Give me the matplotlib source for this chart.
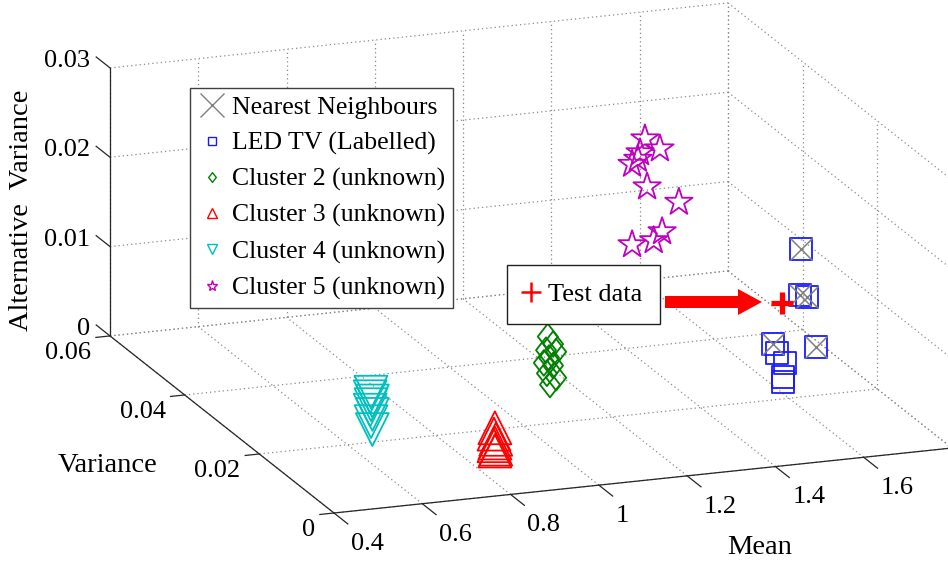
import numpy as np
import matplotlib
matplotlib.use("Agg")
import matplotlib.pyplot as plt
from matplotlib.lines import Line2D
from matplotlib.path import Path
from matplotlib.patches import FancyArrow
from matplotlib import transforms as mtransforms
from mpl_toolkits.mplot3d import proj3d

plt.rcParams["font.family"] = ["Liberation Serif", "DejaVu Serif"]
plt.rcParams["font.size"] = 19

# ---- feature values (mean, variance, alternative variance) ----
led_mean = [1.628, 1.625, 1.640, 1.564, 1.662, 1.572, 1.591, 1.586, 1.586]
led_var = [0.020, 0.020, 0.020, 0.020, 0.020, 0.020, 0.020, 0.020, 0.020]
led_alt = [0.0166, 0.0114, 0.0111, 0.0063, 0.0054, 0.0052, 0.0040, 0.0025, 0.0019]
neighbour_idx = [0, 1, 2, 3, 4]

c2_mean = [1.138, 1.150, 1.134, 1.157, 1.141, 1.129, 1.150, 1.136, 1.157, 1.143]
c2_var = [0.030, 0.030, 0.030, 0.030, 0.030, 0.030, 0.030, 0.030, 0.030, 0.030]
c2_alt = [0.0060, 0.0051, 0.0045, 0.0042, 0.0036, 0.0031, 0.0027, 0.0019, 0.0013, 0.0006]

c3_mean = [0.849, 0.847, 0.851, 0.849, 0.847, 0.851, 0.849]
c3_var = [0.010, 0.010, 0.010, 0.010, 0.010, 0.010, 0.010]
c3_alt = [0.0039, 0.0032, 0.0026, 0.0022, 0.0019, 0.0015, 0.0013]

c4_mean = [0.653, 0.651, 0.656, 0.653, 0.651, 0.656, 0.653, 0.656]
c4_var = [0.020, 0.020, 0.020, 0.020, 0.020, 0.020, 0.020, 0.020]
c4_alt = [0.0056, 0.0051, 0.0046, 0.0042, 0.0036, 0.0031, 0.0023, 0.0014]

c5_mean = [1.358, 1.392, 1.347, 1.329, 1.342, 1.363, 1.435, 1.329, 1.378, 1.397]
c5_var = [0.030, 0.030, 0.030, 0.030, 0.030, 0.030, 0.030, 0.030, 0.030, 0.030]
c5_alt = [0.0270, 0.0257, 0.0255, 0.0243, 0.0248, 0.0216, 0.0195, 0.0153, 0.0155, 0.0164]

test_mean = [1.584]
test_var = [0.020]
test_alt = [0.0108]

mean_ticks = [0.4, 0.6, 0.8, 1.0, 1.2, 1.4, 1.6, 1.8]
mean_labels = ["0.4", "0.6", "0.8", "1", "1.2", "1.4", "1.6"]
var_ticks = [0.0, 0.02, 0.04, 0.06]
var_labels = ["0", "0.02", "0.04", "0.06"]
alt_ticks = [0.0, 0.01, 0.02, 0.03]
alt_labels = ["0", "0.01", "0.02", "0.03"]

legend_labels = ["Nearest Neighbours", "LED TV (Labelled)", "Cluster 2 (unknown)",
                 "Cluster 3 (unknown)", "Cluster 4 (unknown)", "Cluster 5 (unknown)"]

BLUE = "#1a1aff"
GREEN = "#008000"
RED = "#ff0000"
CYAN = "#00bfbf"
MAGENTA = "#bf00bf"
GRAY = "#7f7f7f"

diamond = Path([(0, 1), (0.78, 0), (0, -1), (-0.78, 0), (0, 1)],
               [Path.MOVETO, Path.LINETO, Path.LINETO, Path.LINETO, Path.CLOSEPOLY])

W, H = 948, 561
fig = plt.figure(figsize=(W / 100, H / 100), dpi=100)
ax = fig.add_axes([0, 0, 1, 1], projection="3d", computed_zorder=False)
ax.set_proj_type("ortho")
ax.view_init(elev=16.76, azim=-110.04)
x0, x1 = mean_ticks[0], mean_ticks[-1]
y0, y1 = var_ticks[0], var_ticks[-1]
z0, z1 = alt_ticks[0], alt_ticks[-1]
ax.set_xlim(x0, x1)
ax.set_ylim(y0, y1)
ax.set_zlim(z0, z1)
ax.set_box_aspect((657.8, 653.6, 279.9))
ax.set_axis_off()


def project(x, y, z):
    px, py, _ = proj3d.proj_transform(x, y, z, ax.get_proj())
    return px, py


def axes_frac(x, y, z):
    return ax.transAxes.inverted().transform(ax.transData.transform(project(x, y, z)))


# place the axes so the front corner of the box and the mean axis land where wanted
u0, v0 = axes_frac(x0, y0, z0)
u1, v1 = axes_frac(x1, y0, z0)
S = np.hypot(618.0, 65.0) / np.hypot(u1 - u0, v1 - v0)
L = 334 - u0 * S
B = (H - 513) - v0 * S
ax.set_position([L / W, B / H, S / W, S / H])

# ---- dotted grid on floor, back wall and right wall ----
gkw = dict(color="#8a8a8a", lw=0.9, ls=(0, (1, 2.4)), zorder=1)
for xv in mean_ticks:
    ax.plot([xv, xv], [y1, y1], [z0, z1], **gkw)
    ax.plot([xv, xv], [y0, y1], [z0, z0], **gkw)
for zv in alt_ticks:
    ax.plot([x0, x1], [y1, y1], [zv, zv], **gkw)
    ax.plot([x1, x1], [y0, y1], [zv, zv], **gkw)
for yv in var_ticks:
    ax.plot([x0, x1], [yv, yv], [z0, z0], **gkw)
    ax.plot([x1, x1], [yv, yv], [z0, z1], **gkw)

# ---- axis lines, ticks and tick labels ----
akw = dict(color="#262626", lw=0.9, zorder=2)
ax.plot([x0, x0], [y1, y1], [z0, z1], **akw)
ax.plot([x0, x0], [y0, y1], [z0, z0], **akw)
ax.plot([x0, x1], [y0, y0], [z0, z0], **akw)

tick_y = 0.0037
tick_x = 0.032


def tick_label(x, y, z, text, dx, dy, ha, va):
    ax.annotate(text, project(x, y, z), xytext=(dx, dy), textcoords="offset pixels",
                ha=ha, va=va, annotation_clip=False)


for xv in mean_ticks:
    ax.plot([xv, xv], [y0, y0 - tick_y], [z0, z0], **akw)
for xv, lab in zip(mean_ticks, mean_labels):
    tick_label(xv, y0 - tick_y, z0, lab, 3, -9, "left", "top")
for yv, lab in zip(var_ticks, var_labels):
    ax.plot([x0, x0 - tick_x], [yv, yv], [z0, z0], **akw)
    tick_label(x0 - tick_x, yv, z0, lab, -5, -5, "right", "top")
for zv, lab in zip(alt_ticks, alt_labels):
    ax.plot([x0, x0], [y1, y1 + tick_y], [zv, zv], **akw)
    tick_label(x0, y1 + tick_y, zv, lab, -6, -4, "right", "center")

# ---- data ----
skw = dict(depthshade=False, zorder=3)
ax.scatter(c4_mean, c4_var, c4_alt, marker="v", s=560, facecolors="none",
           edgecolors=CYAN, linewidths=1.3, **skw)
ax.scatter(c3_mean, c3_var, c3_alt, marker="^", s=560, facecolors="none",
           edgecolors=RED, linewidths=1.3, **skw)
ax.scatter(c2_mean, c2_var, c2_alt, marker=diamond, s=340, facecolors="none",
           edgecolors=GREEN, linewidths=1.3, **skw)
ax.scatter(c5_mean, c5_var, c5_alt, marker="*", s=430, facecolors="none",
           edgecolors=MAGENTA, linewidths=1.3, **skw)
ax.scatter(led_mean, led_var, led_alt, marker="s", s=250, facecolors="none",
           edgecolors=BLUE, linewidths=1.3, **skw)
ax.scatter([led_mean[i] for i in neighbour_idx], [led_var[i] for i in neighbour_idx],
           [led_alt[i] for i in neighbour_idx], marker="x", s=250, c=GRAY,
           linewidths=1.1, **skw)
ax.scatter(test_mean, test_var, test_alt, marker="+", s=260, c=RED, linewidths=3.8, **skw)

# ---- axis titles ----
fig.text(22 / W, 1 - 210 / H, "Alternative  Variance", rotation=90, ha="center",
         va="center", fontsize=20.5)
fig.text(108 / W, 1 - 466 / H, "Variance", ha="center", va="center", fontsize=20.5)
fig.text(760 / W, 1 - 547 / H, "Mean", ha="center", va="center", fontsize=20.5)

# ---- legends ----
handles = [
    Line2D([], [], ls="none", marker="x", ms=17, mec=GRAY, mew=1.0),
    Line2D([], [], ls="none", marker="s", ms=6, mec=BLUE, mfc="none", mew=1.0),
    Line2D([], [], ls="none", marker=diamond, ms=7, mec=GREEN, mfc="none", mew=1.0),
    Line2D([], [], ls="none", marker="^", ms=7, mec=RED, mfc="none", mew=1.0),
    Line2D([], [], ls="none", marker="v", ms=7, mec=CYAN, mfc="none", mew=1.0),
    Line2D([], [], ls="none", marker="*", ms=8, mec=MAGENTA, mfc="none", mew=1.0),
]
leg = fig.legend(handles, legend_labels, loc="upper left", fontsize=18.5,
                 bbox_to_anchor=(190 / W, 1 - 88 / H), bbox_transform=fig.transFigure,
                 borderaxespad=0, borderpad=0.3, handlelength=1.15, handletextpad=0.2,
                 labelspacing=0.5, fancybox=False, framealpha=1, edgecolor="#404040")
leg.get_frame().set_linewidth(1.0)

test_handle = [Line2D([], [], ls="none", marker="+", ms=14, mec=RED, mew=1.8)]
leg2 = fig.legend(test_handle, ["Test data"], loc="upper left",
                  bbox_to_anchor=(507 / W, 1 - 265 / H), bbox_transform=fig.transFigure,
                  borderaxespad=0, borderpad=0.68, handlelength=0.45, handletextpad=0.42,
                  fancybox=False, framealpha=1, edgecolor="#202020")
leg2.get_frame().set_linewidth(1.0)

# arrow from the test-data box toward the test point
arrow = FancyArrow(665, H - 302, 97, 0, width=12, head_width=26, head_length=24,
                   length_includes_head=True, color=RED, lw=0,
                   transform=mtransforms.IdentityTransform())
fig.add_artist(arrow)

fig.savefig("out.png", dpi=100, facecolor="white")
